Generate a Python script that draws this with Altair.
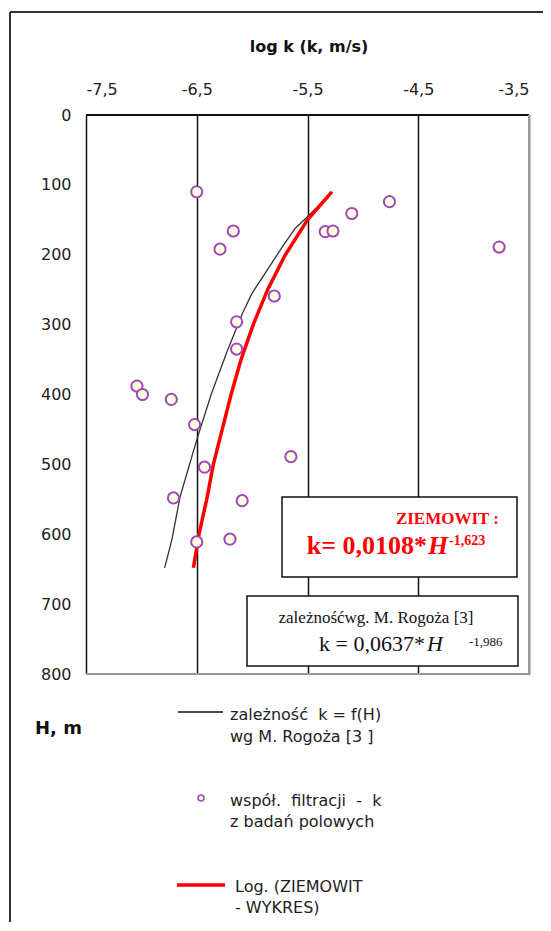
import altair as alt
import pandas as pd

# ---------------- data ----------------
# field measurements (purple circles)
pt_logk = [-6.50, -6.17, -6.29, -5.80, -6.14, -6.14, -5.34, -5.27, -5.10, -4.76, -3.77,
           -7.04, -6.99, -6.73, -6.52, -5.65, -6.43, -6.71, -6.09, -6.50, -6.20]
pt_H = [110, 166, 192, 259, 296, 335, 167, 166, 141, 124, 189,
        388, 400, 407, 443, 489, 504, 548, 552, 611, 607]

# black curve: dependence k = f(H) after M. Rogoża
rog_H = [110, 147, 162, 187, 255, 283, 340, 400, 465, 546, 608, 648]
rog_logk = [-5.275, -5.51, -5.61, -5.72, -6.00, -6.085, -6.23, -6.37, -6.50, -6.65, -6.725, -6.79]

# red curve: ZIEMOWIT fit
zie_H = [110, 150, 200, 250, 300, 350, 400, 450, 500, 550, 600, 648]
zie_logk = [-5.28, -5.50, -5.70, -5.86, -5.99, -6.10, -6.19, -6.27, -6.35, -6.41, -6.48, -6.53]

x_ticks = [-7.5, -6.5, -5.5, -4.5, -3.5]
y_ticks = [0, 100, 200, 300, 400, 500, 600, 700, 800]

x_title = "log k (k, m/s)"
y_title = "H, m"
legend_labels = [["zależność\u00a0 k = f(H)", "wg M. Rogoża [3 ]"],
                 ["współ.\u00a0 filtracji\u00a0 -\u00a0 k", "z badań polowych"],
                 ["Log. (ZIEMOWIT", "- WYKRES)"]]

# ---------------- layout ----------------
W, H = 443, 559
one = pd.DataFrame({"a": [0]})
SANS = "DejaVu Sans"
SERIF = "Liberation Serif"
PURPLE = "#a04ab5"
RED = "#ff0000"

points_df = pd.DataFrame({"logk": pt_logk, "H": pt_H})
rog_df = pd.DataFrame({"logk": rog_logk, "H": rog_H})
zie_df = pd.DataFrame({"logk": zie_logk, "H": zie_H})

xscale = alt.Scale(domain=[-7.5, -3.5], nice=False, zero=False)
yscale = alt.Scale(domain=[0, 800], reverse=True, nice=False, zero=False)

xaxis = alt.Axis(orient="top", values=x_ticks, title=None, grid=True, gridColor="#111111",
                 gridWidth=1.5, gridOpacity=1, domain=False, ticks=False, tickSize=0,
                 labelPadding=18, labelFont=SANS, labelFontSize=16, labelColor="#222222",
                 labelExpr="replace(toString(datum.value), '.', ',')")
yaxis = alt.Axis(orient="left", values=y_ticks, title=None, grid=False, domain=False,
                 ticks=False, tickSize=0, labelPadding=15, labelFont=SANS, labelFontSize=16,
                 labelColor="#222222", format="d")

def xenc():
    return alt.X("logk:Q", scale=xscale, axis=xaxis)

def yenc():
    return alt.Y("H:Q", scale=yscale, axis=yaxis)

def txt(text, x, y, size, font=SANS, weight="normal", style="normal", align="left", color="#222222"):
    return alt.Chart(one).mark_text(text=text, font=font, fontSize=size, fontWeight=weight,
                                    fontStyle=style, align=align, baseline="alphabetic",
                                    color=color).encode(x=alt.value(x), y=alt.value(y))

def rule(x, x2, y, y2, color, width):
    return alt.Chart(one).mark_rule(color=color, strokeWidth=width).encode(
        x=alt.value(x), x2=alt.value(x2), y=alt.value(y), y2=alt.value(y2))

def box(x, x2, y, y2):
    return alt.Chart(one).mark_rect(fill="white", stroke="#111111", strokeWidth=1.5).encode(
        x=alt.value(x), x2=alt.value(x2), y=alt.value(y), y2=alt.value(y2))

rog_line = alt.Chart(rog_df).mark_line(color="#333333", strokeWidth=1.3).encode(
    x=xenc(), y=yenc(), order=alt.Order("H:Q"))
zie_line = alt.Chart(zie_df).mark_line(color=RED, strokeWidth=3.5).encode(
    x=xenc(), y=yenc(), order=alt.Order("H:Q"))
pts = alt.Chart(points_df).mark_point(shape="circle", filled=False, fill="#ffffe6", fillOpacity=1,
                                      stroke=PURPLE, strokeWidth=2, size=125, opacity=1).encode(
    x=xenc(), y=yenc())

layers = [
    rog_line, zie_line, pts,
    # plot borders
    rule(0, W, 0, 0, "#111111", 2),
    rule(W, W, 0, H, "#999999", 2),
    rule(0, W, H, H, "#999999", 2),
    # outer frame
    rule(-76, 460, -103, -103, "#333333", 2),
    rule(-76, -76, -103, 820, "#333333", 2),
    # annotation boxes
    box(196, 431, 382, 462),
    txt("ZIEMOWIT :", 413, 409, 17, font=SERIF, weight="bold", align="right", color=RED),
    txt("k= 0,0108*", 341, 439, 26, font=SERIF, weight="bold", align="right", color=RED),
    txt("H", 342, 439, 26, font=SERIF, weight="bold", style="italic", color=RED),
    txt("-1,623", 363, 430, 14, font=SERIF, weight="bold", color=RED),
    box(161, 432, 481, 551),
    txt("zależnośćwg. M. Rogoża [3]", 290, 508, 17, font=SERIF, align="center", color="#111111"),
    txt("k = 0,0637*", 339, 536, 22, font=SERIF, align="right", color="#111111"),
    txt("H", 341, 536, 22, font=SERIF, style="italic", color="#111111"),
    txt("-1,986", 383, 531, 13, font=SERIF, color="#111111"),
    # axis titles
    txt(x_title, 223, -63, 16, weight="bold", align="center", color="#111111"),
    txt(y_title, -51, 619, 18, weight="bold", color="#111111"),
    # legend
    rule(92, 137, 597, 597, "#111111", 1.5),
    txt(legend_labels[0][0], 144, 605, 16),
    txt(legend_labels[0][1], 144, 627, 16),
    alt.Chart(one).mark_point(shape="circle", filled=False, stroke=PURPLE, strokeWidth=1.6,
                              size=35, opacity=1).encode(x=alt.value(115), y=alt.value(683)),
    txt(legend_labels[1][0], 144, 691, 16),
    txt(legend_labels[1][1], 144, 712, 16),
    rule(91, 139, 770, 770, RED, 3.5),
    txt(legend_labels[2][0], 149, 777, 16),
    txt(legend_labels[2][1], 149, 798, 16),
]

chart = alt.layer(*layers).properties(
    width=W, height=H,
    padding={"left": 78, "top": 107, "right": 14, "bottom": 248},
    autosize=alt.AutoSizeParams(type="none"),
    background="white",
).configure_view(stroke=None)

chart.save("out.html", embed_options={"renderer": "svg", "actions": False})
